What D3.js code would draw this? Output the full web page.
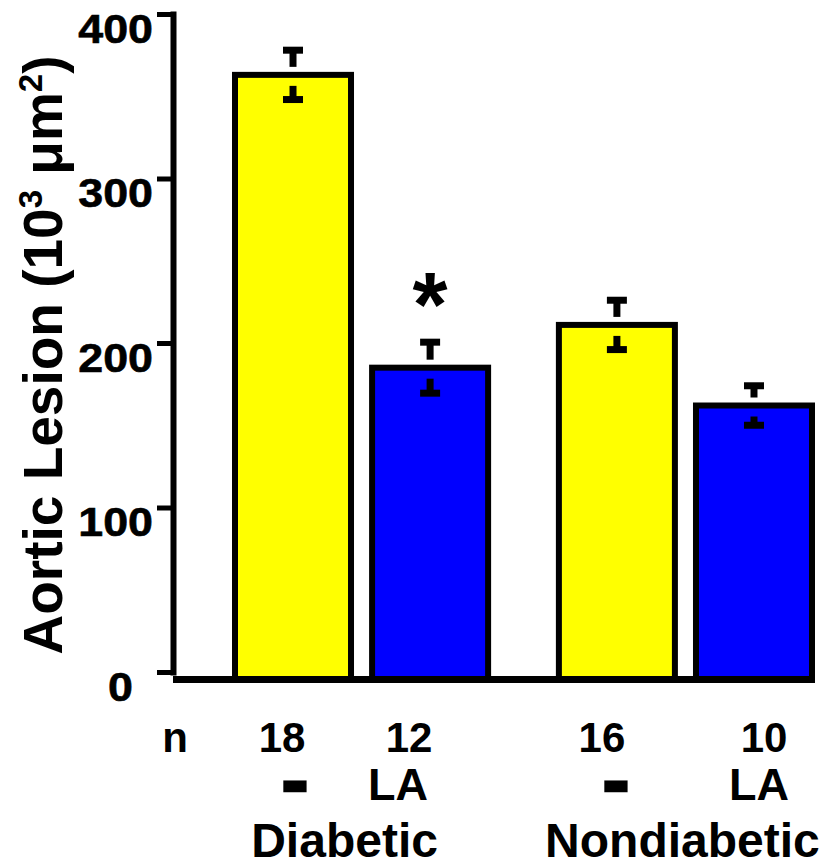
<!DOCTYPE html>
<html>
<head>
<meta charset="utf-8">
<script src="https://cdn.jsdelivr.net/npm/d3@7/dist/d3.min.js"></script>
<style>
  html, body { margin: 0; padding: 0; background: #fff; }
  svg { display: block; }
  text { font-family: "Liberation Sans", Arial, Helvetica, sans-serif; font-weight: bold; fill: #000; }
</style>
</head>
<body>
<svg id="chart" width="823" height="866"></svg>
<script>
// Aortic lesion area by group and treatment
const groups = ["Diabetic", "Nondiabetic"];
const treatments = ["-", "LA"];
const barGroup = ["Diabetic", "Diabetic", "Nondiabetic", "Nondiabetic"];
const barTreatment = ["-", "LA", "-", "LA"];
const lesionMean = [363, 185, 211, 162];
const lesionSem = [15, 15.5, 15, 12];
const nPerGroup = [18, 12, 16, 10];
const significance = ["", "*", "", ""];
const yTicks = [0, 100, 200, 300, 400];
const treatmentColors = ["#ffff00", "#0000ff"];

const svg = d3.select("#chart");

const axisX = 173;        // position of the vertical axis line
const baseY = 679.5;      // position of the horizontal baseline

const y = d3.scaleLinear().domain([0, 400]).range([672, 14]);
const xGroup = d3.scaleBand().domain(groups).range([232, 815]).paddingInner(0.2).paddingOuter(0);
const xTreat = d3.scaleBand().domain(treatments).range([0, xGroup.bandwidth()]).paddingInner(0.11).paddingOuter(0);
const color = d3.scaleOrdinal().domain(treatments).range(treatmentColors);

const bars = lesionMean.map((m, i) => ({
  group: barGroup[i], treat: barTreatment[i], mean: m, sem: lesionSem[i],
  n: nPerGroup[i], sig: significance[i]
}));
const barLeft = d => xGroup(d.group) + xTreat(d.treat);
const barCenter = d => barLeft(d) + xTreat.bandwidth() / 2;
const sw = 6;

// bars
svg.append("g").selectAll("rect").data(bars).join("rect")
  .attr("x", d => barLeft(d) + sw / 2)
  .attr("width", xTreat.bandwidth() - sw)
  .attr("y", d => y(d.mean))
  .attr("height", d => baseY - y(d.mean))
  .attr("fill", d => color(d.treat))
  .attr("stroke", "#000")
  .attr("stroke-width", sw);

// error bars: upper T above the bar, inverted T just inside the bar top
const eb = svg.append("g").attr("stroke", "#000").attr("stroke-width", 7);
bars.forEach(d => {
  const cx = barCenter(d);
  const top = y(d.mean + d.sem), mid = y(d.mean), bot = y(d.mean - d.sem);
  eb.append("line").attr("x1", cx).attr("x2", cx).attr("y1", top).attr("y2", mid - 8);
  eb.append("line").attr("x1", cx - 10).attr("x2", cx + 10).attr("y1", top).attr("y2", top);
  eb.append("line").attr("x1", cx).attr("x2", cx).attr("y1", mid + 11).attr("y2", bot);
  eb.append("line").attr("x1", cx - 10).attr("x2", cx + 10).attr("y1", bot).attr("y2", bot);
});

// significance marks
svg.append("g").selectAll("text").data(bars.filter(d => d.sig)).join("text")
  .attr("x", barCenter)
  .attr("y", d => y(d.mean + d.sem) - 6)
  .attr("text-anchor", "middle")
  .style("font-size", "90px")
  .text(d => d.sig);

// y axis
const labelScale = 1.12;
const yAxis = svg.append("g")
  .attr("transform", `translate(${axisX},0)`)
  .call(d3.axisLeft(y).tickValues(yTicks).tickSize(16).tickSizeOuter(0).tickFormat(d3.format("d")));
yAxis.select(".domain").attr("stroke", "#000").attr("stroke-width", 6).attr("stroke-linecap", "square");
yAxis.selectAll(".tick line").attr("stroke", "#000").attr("stroke-width", 5);
yAxis.selectAll(".tick text")
  .attr("transform", `scale(${labelScale},1)`)
  .attr("x", d => (d === 0 ? -40 : -20) / labelScale)
  .attr("y", 28)
  .attr("dy", null)
  .attr("text-anchor", "end")
  .attr("fill", "#000")
  .attr("stroke", "#000")
  .attr("stroke-width", 0.6)
  .style("font-size", "40px")
  .style("font-family", "'Liberation Sans', Arial, sans-serif")
  .style("font-weight", "bold");

// baseline
svg.append("line")
  .attr("x1", axisX).attr("x2", xGroup.range()[1])
  .attr("y1", baseY).attr("y2", baseY)
  .attr("stroke", "#000").attr("stroke-width", 7);

// y axis title
const title = svg.append("text")
  .attr("transform", "translate(62,355) rotate(-90)")
  .attr("text-anchor", "middle")
  .style("font-size", "55px");
title.append("tspan").text("Aortic Lesion (10");
title.append("tspan").attr("dy", -20).style("font-size", "33px").text("3");
title.append("tspan").attr("dy", 20).text(" \u03BCm");
title.append("tspan").attr("dy", -20).style("font-size", "33px").text("2");
title.append("tspan").attr("dy", 20).text(")");

// n row
const nNudge = [-11, -21, -15, 10];
svg.append("text").attr("x", 175).attr("y", 752).attr("text-anchor", "middle")
  .style("font-size", "42px").text("n");
svg.append("g").selectAll("text").data(bars).join("text")
  .attr("x", (d, i) => barCenter(d) + nNudge[i])
  .attr("y", 752)
  .attr("text-anchor", "middle")
  .style("font-size", "42px")
  .text(d => d.n);

// treatment row (the plain dash is thickened with a stroke and widened)
const tNudge = [2, -32, -1, 5];
const dashWiden = 1.3;
svg.append("g").selectAll("text").data(bars).join("text")
  .attr("transform", d => d.treat === "-" ? `scale(${dashWiden},1)` : null)
  .attr("x", (d, i) => (barCenter(d) + tNudge[i]) / (d.treat === "-" ? dashWiden : 1))
  .attr("y", d => d.treat === "-" ? 798 : 800)
  .attr("text-anchor", "middle")
  .style("font-size", "45px")
  .attr("stroke", d => d.treat === "-" ? "#000" : null)
  .attr("stroke-width", d => d.treat === "-" ? 6.5 : null)
  .attr("stroke-linejoin", "miter")
  .text(d => d.treat);

// group row
const gNudge = [-17, -3];
svg.append("g").selectAll("text").data(groups).join("text")
  .attr("x", (d, i) => xGroup(d) + xGroup.bandwidth() / 2 + gNudge[i])
  .attr("y", 857)
  .attr("text-anchor", "middle")
  .style("font-size", "48px")
  .text(d => d);
</script>
</body>
</html>
